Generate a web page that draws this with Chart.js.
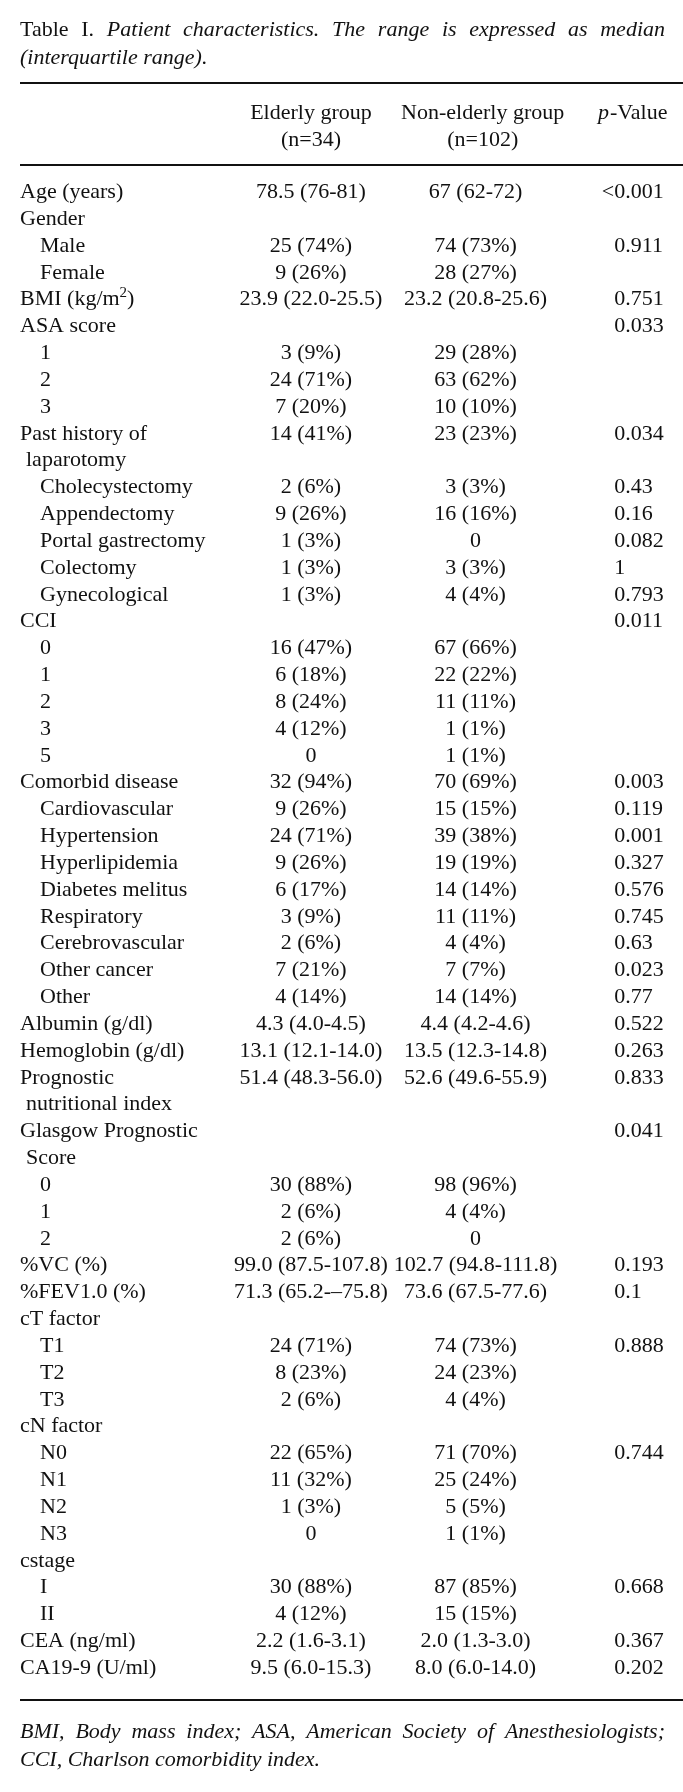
<!DOCTYPE html>
<html>
<head>
<meta charset="utf-8">
<script src="https://cdn.jsdelivr.net/npm/chart.js@4.4.0/dist/chart.umd.min.js"></script>
<style>
html, body { margin: 0; padding: 0; background: #fff; }
canvas { display: block; }
</style>
</head>
<body>
<canvas id="tbl" width="683" height="1792"></canvas>
<script>
// table content
var rowLabels = ['Age (years)', 'Gender', 'Male', 'Female', 'BMI (kg/m^2)', 'ASA score', '1', '2', '3',
    'Past history of', 'laparotomy', 'Cholecystectomy', 'Appendectomy', 'Portal gastrectomy', 'Colectomy',
    'Gynecological', 'CCI', '0', '1', '2', '3', '5', 'Comorbid disease', 'Cardiovascular', 'Hypertension',
    'Hyperlipidemia', 'Diabetes melitus', 'Respiratory', 'Cerebrovascular', 'Other cancer', 'Other',
    'Albumin (g/dl)', 'Hemoglobin (g/dl)', 'Prognostic', 'nutritional index', 'Glasgow Prognostic', 'Score',
    '0', '1', '2', '%VC (%)', '%FEV1.0 (%)', 'cT factor', 'T1', 'T2', 'T3', 'cN factor', 'N0', 'N1', 'N2',
    'N3', 'cstage', 'I', 'II', 'CEA (ng/ml)', 'CA19-9 (U/ml)'];
// 0 = item, 1 = sub item, 2 = wrapped line of the item above
var rowLevel = [0, 0, 1, 1, 0, 0, 1, 1, 1,
    0, 2, 1, 1, 1, 1,
    1, 0, 1, 1, 1, 1, 1, 0, 1, 1,
    1, 1, 1, 1, 1, 1,
    0, 0, 0, 2, 0, 2,
    1, 1, 1, 0, 0, 0, 1, 1, 1, 0, 1, 1, 1,
    1, 0, 1, 1, 0, 0];
var elderly = ['78.5 (76-81)', '', '25 (74%)', '9 (26%)', '23.9 (22.0-25.5)', '', '3 (9%)', '24 (71%)', '7 (20%)',
    '14 (41%)', '', '2 (6%)', '9 (26%)', '1 (3%)', '1 (3%)',
    '1 (3%)', '', '16 (47%)', '6 (18%)', '8 (24%)', '4 (12%)', '0', '32 (94%)', '9 (26%)', '24 (71%)',
    '9 (26%)', '6 (17%)', '3 (9%)', '2 (6%)', '7 (21%)', '4 (14%)',
    '4.3 (4.0-4.5)', '13.1 (12.1-14.0)', '51.4 (48.3-56.0)', '', '', '',
    '30 (88%)', '2 (6%)', '2 (6%)', '99.0 (87.5-107.8)', '71.3 (65.2-\u201375.8)', '', '24 (71%)', '8 (23%)', '2 (6%)', '', '22 (65%)', '11 (32%)', '1 (3%)',
    '0', '', '30 (88%)', '4 (12%)', '2.2 (1.6-3.1)', '9.5 (6.0-15.3)'];
var nonElderly = ['67 (62-72)', '', '74 (73%)', '28 (27%)', '23.2 (20.8-25.6)', '', '29 (28%)', '63 (62%)', '10 (10%)',
    '23 (23%)', '', '3 (3%)', '16 (16%)', '0', '3 (3%)',
    '4 (4%)', '', '67 (66%)', '22 (22%)', '11 (11%)', '1 (1%)', '1 (1%)', '70 (69%)', '15 (15%)', '39 (38%)',
    '19 (19%)', '14 (14%)', '11 (11%)', '4 (4%)', '7 (7%)', '14 (14%)',
    '4.4 (4.2-4.6)', '13.5 (12.3-14.8)', '52.6 (49.6-55.9)', '', '', '',
    '98 (96%)', '4 (4%)', '0', '102.7 (94.8-111.8)', '73.6 (67.5-77.6)', '', '74 (73%)', '24 (23%)', '4 (4%)', '', '71 (70%)', '25 (24%)', '5 (5%)',
    '1 (1%)', '', '87 (85%)', '15 (15%)', '2.0 (1.3-3.0)', '8.0 (6.0-14.0)'];
var pValue = ['<0.001', '', '0.911', '', '0.751', '0.033', '', '', '',
    '0.034', '', '0.43', '0.16', '0.082', '1',
    '0.793', '0.011', '', '', '', '', '', '0.003', '0.119', '0.001',
    '0.327', '0.576', '0.745', '0.63', '0.023', '0.77',
    '0.522', '0.263', '0.833', '', '0.041', '',
    '', '', '', '0.193', '0.1', '', '0.888', '', '', '', '0.744', '', '',
    '', '', '0.668', '', '0.367', '0.202'];
var headElderly = ['Elderly group', '(n=34)'];
var headNonElderly = ['Non-elderly group', '(n=102)'];
var headP = ['p', '-Value'];
var titleWords = [['Table', 0], ['I.', 0], ['Patient', 1], ['characteristics.', 1], ['The', 1], ['range', 1],
    ['is', 1], ['expressed', 1], ['as', 1], ['median', 1]];
var titleLine2 = '(interquartile range).';
var noteLine1 = 'BMI, Body mass index; ASA, American Society of Anesthesiologists;';
var noteLine2 = 'CCI, Charlson comorbidity index.';

// layout
var FS = 22;
var INK = '#111';
var colX = { label: 0, elderly: 0.449, nonElderly: 0.703, p: 0.917 };
var headX = { elderly: 0.449, nonElderly: 0.714, p: 0.892 };
var yPos = { title1: -6.02, title2: -5.0, topRule: -4.04, head1: -2.93, head2: -1.95, headRule: -0.96,
    bottomRule: 56.22, note1: 57.38, note2: 58.43 };

function font(italic, size) {
    return (italic ? 'italic ' : '') + (size || FS) + 'px "Liberation Serif", "Times New Roman", serif';
}

function drawRich(ctx, text, x, y, align) {
    // "^2" is drawn as a superscript
    var parts = text.split(/\^(.)/);
    var segs = [];
    for (var i = 0; i < parts.length; i++) {
        if (parts[i] === '') continue;
        segs.push({ t: parts[i], sup: i % 2 === 1 });
    }
    var w = 0;
    segs.forEach(function (s) {
        ctx.font = font(false, s.sup ? 15 : FS);
        s.w = ctx.measureText(s.t).width;
        w += s.w;
    });
    var cx = x;
    if (align === 'center') cx = x - w / 2;
    if (align === 'right') cx = x - w;
    ctx.textAlign = 'left';
    segs.forEach(function (s) {
        ctx.font = font(false, s.sup ? 15 : FS);
        ctx.fillText(s.t, cx, s.sup ? y - 8 : y);
        cx += s.w;
    });
}

function justify(ctx, words, left, right, y) {
    var total = 0;
    words.forEach(function (w) {
        ctx.font = font(w[1]);
        w.w = ctx.measureText(w[0]).width;
        total += w.w;
    });
    var gap = (right - left - total) / (words.length - 1);
    var x = left;
    ctx.textAlign = 'left';
    words.forEach(function (w) {
        ctx.font = font(w[1]);
        ctx.fillText(w[0], x, y);
        x += w.w + gap;
    });
}

var tablePlugin = {
    id: 'tablePlugin',
    beforeDraw: function (chart) {
        var ctx = chart.ctx;
        ctx.save();
        ctx.fillStyle = '#fff';
        ctx.fillRect(0, 0, chart.width, chart.height);
        ctx.restore();
    },
    afterDatasetsDraw: function (chart) {
        var ctx = chart.ctx, xs = chart.scales.x, ys = chart.scales.y;
        var base = 7; // middle of caps to baseline
        ctx.save();
        ctx.fillStyle = INK;
        ctx.textBaseline = 'alphabetic';

        // cells
        chart.data.datasets.forEach(function (ds, d) {
            var meta = chart.getDatasetMeta(d);
            meta.data.forEach(function (el, i) {
                var raw = ds.data[i];
                var x = el.x;
                ctx.font = font(false);
                if (ds.kind === 'label') {
                    var lv = rowLevel[raw.y];
                    x += lv === 1 ? 20 : (lv === 2 ? 6 : 0);
                    drawRich(ctx, raw.text, x, el.y + base, 'left');
                } else if (ds.kind === 'p') {
                    if (raw.text.charAt(0) === '<') x -= ctx.measureText('<').width;
                    drawRich(ctx, raw.text, x, el.y + base, 'left');
                } else {
                    drawRich(ctx, raw.text, x, el.y + base, 'center');
                }
            });
        });

        // headers
        var h1 = ys.getPixelForValue(yPos.head1) + base, h2 = ys.getPixelForValue(yPos.head2) + base;
        drawRich(ctx, headElderly[0], xs.getPixelForValue(headX.elderly), h1, 'center');
        drawRich(ctx, headElderly[1], xs.getPixelForValue(headX.elderly), h2, 'center');
        drawRich(ctx, headNonElderly[0], xs.getPixelForValue(headX.nonElderly), h1, 'center');
        drawRich(ctx, headNonElderly[1], xs.getPixelForValue(headX.nonElderly), h2, 'center');
        var px = xs.getPixelForValue(headX.p);
        ctx.textAlign = 'left';
        ctx.font = font(true);
        ctx.fillText(headP[0], px, h1);
        var pw = ctx.measureText(headP[0]).width;
        ctx.font = font(false);
        ctx.fillText(headP[1], px + pw + 1, h1);

        // title and note
        var left = chart.chartArea.left, right = 665;
        justify(ctx, titleWords, left, right, ys.getPixelForValue(yPos.title1) + base);
        ctx.font = font(true);
        ctx.textAlign = 'left';
        ctx.fillText(titleLine2, left, ys.getPixelForValue(yPos.title2) + base);
        justify(ctx, noteLine1.split(' ').map(function (w) { return [w, 1]; }), left, right,
            ys.getPixelForValue(yPos.note1) + base);
        ctx.font = font(true);
        ctx.fillText(noteLine2, left, ys.getPixelForValue(yPos.note2) + base);

        // rules
        ctx.strokeStyle = INK;
        ctx.lineWidth = 2;
        ['topRule', 'headRule', 'bottomRule'].forEach(function (k) {
            var y = Math.round(ys.getPixelForValue(yPos[k]));
            ctx.beginPath();
            ctx.moveTo(left, y);
            ctx.lineTo(chart.width, y);
            ctx.stroke();
        });
        ctx.restore();
    }
};

function cells(values, col) {
    var out = [];
    values.forEach(function (v, i) {
        if (v !== '') out.push({ x: colX[col], y: i, text: v });
    });
    return out;
}

new Chart(document.getElementById('tbl'), {
    type: 'scatter',
    data: {
        datasets: [
            { kind: 'label', data: cells(rowLabels, 'label') },
            { kind: 'value', data: cells(elderly, 'elderly') },
            { kind: 'value', data: cells(nonElderly, 'nonElderly') },
            { kind: 'p', data: cells(pValue, 'p') }
        ]
    },
    options: {
        responsive: false,
        animation: false,
        devicePixelRatio: 1,
        layout: { padding: { top: 191, bottom: 125, left: 20, right: 15 } },
        elements: { point: { radius: 0, hoverRadius: 0 } },
        scales: {
            x: { type: 'linear', min: 0, max: 1, display: false },
            y: { type: 'linear', min: 0, max: rowLabels.length - 1, reverse: true, display: false }
        },
        plugins: { legend: { display: false }, tooltip: { enabled: false } },
        events: []
    },
    plugins: [tablePlugin]
});
</script>
</body>
</html>
